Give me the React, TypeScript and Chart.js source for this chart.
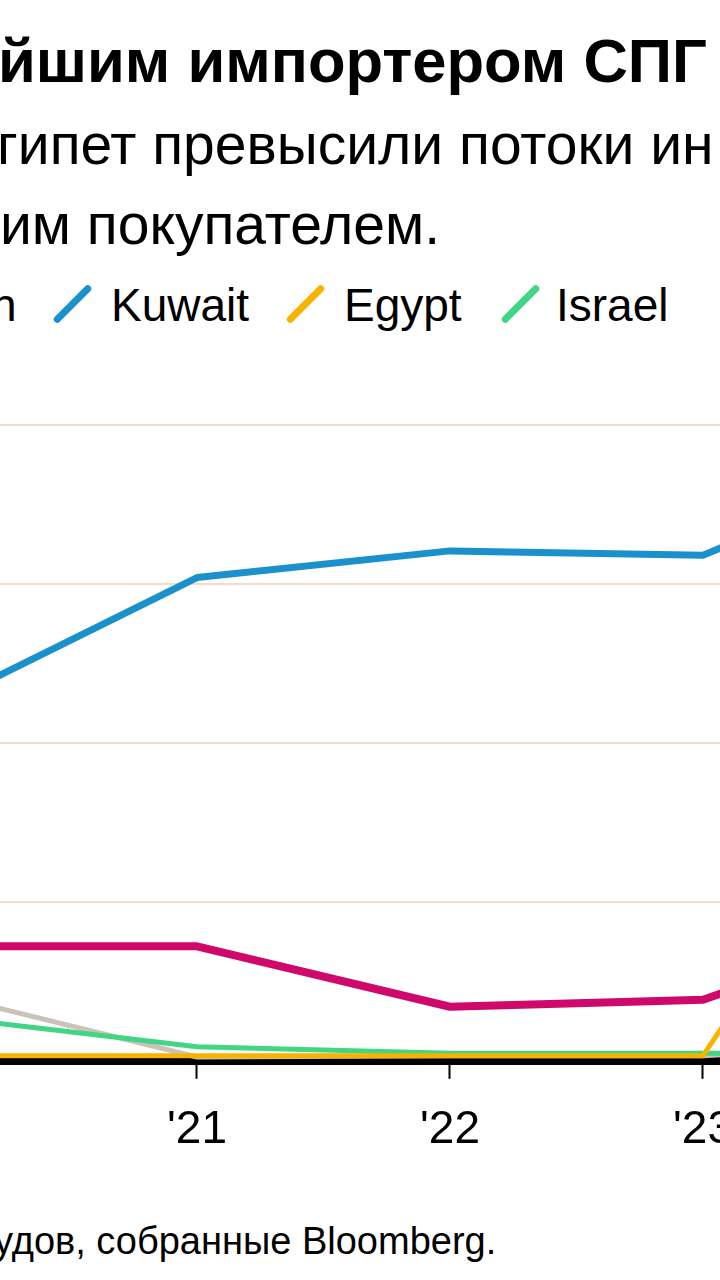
import React, { useEffect, useRef } from "react";
import { Chart, registerables } from "chart.js";

Chart.register(...registerables);

// ---- data ----
const years = [2020, 2021, 2022, 2023, 2024];
const tickYears = [2021, 2022, 2023];
const kuwait = [5.63, 7.6, 8.02, 7.95, 9.6];
const jordan = [1.8, 1.8, 0.85, 0.96, 2.35];
const egypt = [0.08, 0.08, 0.08, 0.08, 6.0];
const israel = [0.69, 0.22, 0.12, 0.12, 0.12];
const other = [1.04, 0.06, 0.08, 0.08, 0.3];
const yTicks = [0, 2.5, 5, 7.5, 10];

const titleText = "йшим импортером СПГ";
const subLine1 = "гипет превысили потоки ин";
const subLine2 = "им покупателем.";
const legendCut = "n";
const legendNames = ["Kuwait", "Egypt", "Israel"];
const footerText = "удов, собранные Bloomberg.";

const COLORS = {
  kuwait: "#1a90cd",
  jordan: "#d1086b",
  egypt: "#f6b400",
  israel: "#40d683",
  other: "#cbc2b8",
  grid: "#f5dcc8",
};

const FONT = "'Liberation Sans', Arial, Helvetica, sans-serif";

export default function App() {
  const ref = useRef<HTMLCanvasElement | null>(null);

  useEffect(() => {
    if (!ref.current) return;
    const mk = (label: string, data: number[], color: string, w: number) => ({
      label,
      data: years.map((y, i) => ({ x: y, y: data[i] })),
      borderColor: color,
      backgroundColor: color,
      borderWidth: w,
      pointRadius: 0,
      tension: 0,
      borderJoinStyle: "round" as const,
      borderCapStyle: "round" as const,
      fill: false,
    });
    const chart = new Chart(ref.current, {
      type: "line",
      data: {
        datasets: [
          mk("Kuwait", kuwait, COLORS.kuwait, 7),
          mk("Jordan", jordan, COLORS.jordan, 8),
          mk("Egypt", egypt, COLORS.egypt, 5),
          mk("Israel", israel, COLORS.israel, 5),
          mk("Other", other, COLORS.other, 5),
        ],
      },
      options: {
        animation: false,
        responsive: false,
        devicePixelRatio: 1,
        layout: { padding: { top: 45, bottom: 8, left: 0, right: 0 } },
        plugins: { legend: { display: false }, tooltip: { enabled: false } },
        scales: {
          x: {
            type: "linear",
            min: 2021 - 297 / 253,
            max: 2021 + 823 / 253,
            afterBuildTicks: (s: any) => {
              s.ticks = tickYears.map((v) => ({ value: v }));
            },
            grid: {
              drawOnChartArea: false,
              drawTicks: true,
              tickLength: 18,
              tickColor: "#000",
              tickWidth: 2,
            },
            border: { display: true, color: "#000", width: 8 },
            ticks: {
              padding: 24,
              color: "#000",
              font: { family: FONT, size: 46 },
              maxRotation: 0,
              autoSkip: false,
              callback: (v: any) => "'" + String(v).slice(2),
            },
          },
          y: {
            min: 0,
            max: 10,
            afterBuildTicks: (s: any) => {
              s.ticks = yTicks.map((v) => ({ value: v }));
            },
            afterFit: (s: any) => {
              s.width = 0;
            },
            grid: {
              drawTicks: false,
              color: COLORS.grid,
              lineWidth: 2,
            },
            border: { display: false },
            ticks: { display: false },
          },
        },
      },
    });
    return () => chart.destroy();
  }, []);

  const text = (
    s: string,
    left: number,
    baseline: number,
    size: number,
    bold = false
  ) => (
    <div
      style={{
        position: "absolute",
        left,
        top: baseline - 0.8465 * size,
        fontFamily: FONT,
        fontSize: size,
        lineHeight: 1,
        fontWeight: bold ? 700 : 400,
        whiteSpace: "nowrap",
        color: "#000",
      }}
    >
      {s}
    </div>
  );

  const slash = (cx: number, cy: number, color: string) => (
    <div
      style={{
        position: "absolute",
        left: cx - 3.5,
        top: cy - 25,
        width: 7,
        height: 50,
        borderRadius: 4,
        background: color,
        transform: "rotate(45deg)",
      }}
    />
  );

  return (
    <div
      style={{
        position: "fixed",
        left: 0,
        top: 0,
        width: 720,
        height: 1280,
        overflow: "hidden",
        background: "#fff",
      }}
    >
      {text(titleText, -2, 82, 61.5, true)}
      {text(subLine1, -3, 164, 57)}
      {text(subLine2, 0, 244, 57)}
      {text(legendCut, -9, 321, 46)}
      {slash(72, 304, COLORS.kuwait)}
      {text(legendNames[0], 111, 321, 46)}
      {slash(305, 304, COLORS.egypt)}
      {text(legendNames[1], 344, 321, 46)}
      {slash(520, 304, COLORS.israel)}
      {text(legendNames[2], 556, 321, 46)}
      <canvas
        ref={ref}
        width={1120}
        height={810}
        style={{ position: "absolute", left: -100, top: 380, width: 1120, height: 810 }}
      />
      {text(footerText, -6, 1254, 38)}
    </div>
  );
}
